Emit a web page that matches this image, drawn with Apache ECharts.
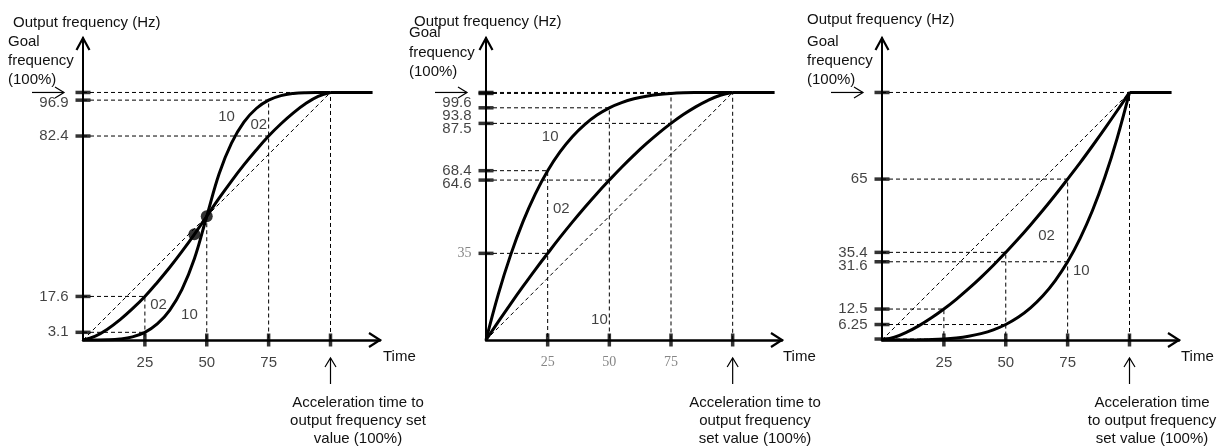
<!DOCTYPE html>
<html>
<head>
<meta charset="utf-8">
<script src="https://cdn.jsdelivr.net/npm/echarts@6/dist/echarts.min.js"></script>
<style>
  html, body { margin: 0; padding: 0; background: #fff; }
  #chart { width: 1226px; height: 447px; }
</style>
</head>
<body>
<div id="chart"></div>
<script>
// Time axis samples, % of the acceleration time
const timePoints = [0, 5, 10, 15, 20, 25, 30, 35, 40, 45, 50, 55, 60, 65, 70, 75, 80, 85, 90, 95, 100];

// S-shaped acceleration (output frequency, % of goal)
const sCurve02 = [0, 1.58, 4.47, 8.22, 12.65, 17.6, 23.24, 29.28, 35.78, 42.69, 50, 57.31, 64.22, 70.72, 76.76, 82.4, 87.35, 91.78, 95.53, 98.42, 100];
const sCurve10 = [0, 0.01, 0.08, 0.41, 1.28, 3.1, 6.48, 12.0, 20.48, 32.8, 50, 67.2, 79.52, 88.0, 93.52, 96.9, 98.72, 99.59, 99.92, 99.99, 100];
const sInflection = [[45, 42.69], [50, 50]];

// Fast-start (decelerating) curves
const decel02 = [0, 7.40, 14.62, 21.63, 28.45, 35, 41.43, 47.60, 53.52, 59.21, 64.6, 69.81, 74.70, 79.29, 83.57, 87.5, 91.06, 94.19, 96.84, 98.88, 100];
const decel10 = [0, 18.55, 34.39, 47.80, 59.04, 68.4, 75.99, 82.15, 87.04, 90.85, 93.8, 95.90, 97.44, 98.50, 99.19, 99.6, 99.84, 99.95, 99.99, 100, 100];

// Slow-start (accelerating) curves
const accel02 = [0, 1.12, 3.16, 5.81, 8.94, 12.5, 16.43, 20.71, 25.30, 30.19, 35.4, 40.79, 46.48, 52.40, 58.57, 65, 71.55, 78.37, 85.38, 92.60, 100];
const accel10 = [0, 0, 0.01, 0.05, 0.16, 0.39, 0.81, 1.50, 2.56, 4.10, 6.25, 9.15, 12.96, 17.85, 24.01, 31.6, 40.96, 52.20, 65.61, 81.45, 100];

// Frequency ticks and their labels
const sFreqTicks = [100, 96.9, 82.4, 17.6, 3.1];
const sFreqLabels = ['', '96.9', '82.4', '17.6', '3.1'];
const decelFreqTicks = [100, 99.6, 93.8, 87.5, 68.4, 64.6, 35];
const decelFreqLabels = ['', '99.6', '93.8', '87.5', '68.4', '64.6', '35'];
const accelFreqTicks = [100, 65, 35.4, 31.6, 12.5, 6.25, 0.39];
const accelFreqLabels = ['', '65', '35.4', '31.6', '12.5', '6.25', ''];

// Time ticks
const timeTicks = [25, 50, 75, 100];
const timeTickLabels = ['25', '50', '75', ''];

// Frequency held after the acceleration time
const holdEnd = 117;

// Reading guides: frequency value -> curve point -> time value
const sGuides = [
  [[0, 100], [100, 100], [100, 0]],
  [[0, 96.9], [75, 96.9], [75, 0]],
  [[0, 82.4], [75, 82.4]],
  [[0, 17.6], [25, 17.6], [25, 0]],
  [[0, 3.1], [25, 3.1]],
  [[50, 50], [50, 0]]
];
const decelGuides = [
  [[0, 100], [100, 100], [100, 0]],
  [[0, 99.6], [75, 99.6], [75, 0]],
  [[0, 93.8], [50, 93.8], [50, 0]],
  [[0, 87.5], [75, 87.5]],
  [[0, 68.4], [25, 68.4], [25, 0]],
  [[0, 64.6], [50, 64.6]],
  [[0, 35], [25, 35]]
];
const accelGuides = [
  [[0, 100], [100, 100], [100, 0]],
  [[0, 65], [75, 65], [75, 0]],
  [[0, 35.4], [50, 35.4], [50, 0]],
  [[0, 31.6], [75, 31.6]],
  [[0, 12.5], [25, 12.5], [25, 0]],
  [[0, 6.25], [50, 6.25]],
  [[0, 0.39], [25, 0.39]]
];
const diagonal = [[0, 0], [100, 100]];

const SANS = '"Liberation Sans", Arial, sans-serif';
const SERIF = '"Liberation Serif", "Times New Roman", serif';
const FONT_SIZE = 15;
const LABEL_GAP = 13;
const X_MAX = 120, Y_MAX = 122;

const panels = [
  {
    curves: [sCurve02, sCurve10], freqTicks: sFreqTicks, freqLabels: sFreqLabels, guides: sGuides,
    dots: sInflection, serifFreq: [], serifTime: false,
    grid: { left: 83, top: 38, width: 297, height: 302 },
    notes: [{ t: '10', at: [58, 90] }, { t: '02', at: [71, 87] }, { t: '02', at: [30.5, 14] }, { t: '10', at: [43, 10] }],
    titleX: 13, titleY: 23, goalX: 8, goalY: [42, 61, 80], timeX: 383,
    footX: 358, foot: ['Acceleration time to', 'output frequency set', 'value (100%)']
  },
  {
    curves: [decel02, decel10], freqTicks: decelFreqTicks, freqLabels: decelFreqLabels, guides: decelGuides,
    dots: [], serifFreq: [35], serifTime: true,
    grid: { left: 486, top: 38, width: 296, height: 302 },
    notes: [{ t: '10', at: [26, 82] }, { t: '02', at: [30.5, 53] }, { t: '10', at: [46, 8] }],
    titleX: 414, titleY: 22, goalX: 409, goalY: [33, 53, 72], timeX: 783,
    footX: 755, foot: ['Acceleration time to', 'output frequency', 'set value (100%)']
  },
  {
    curves: [accel02, accel10], freqTicks: accelFreqTicks, freqLabels: accelFreqLabels, guides: accelGuides,
    dots: [], serifFreq: [], serifTime: false,
    grid: { left: 882, top: 38, width: 297, height: 302 },
    notes: [{ t: '02', at: [66.5, 42] }, { t: '10', at: [80.5, 28] }],
    titleX: 807, titleY: 20, goalX: 807, goalY: [42, 61, 80], timeX: 1181,
    footX: 1152, foot: ['Acceleration time', 'to output frequency', 'set value (100%)']
  }
];

const grids = [], xAxes = [], yAxes = [], series = [];

panels.forEach((p, i) => {
  grids.push(Object.assign({ containLabel: false }, p.grid));
  const axisBase = {
    gridIndex: i, type: 'value', min: 0,
    axisTick: { show: false }, axisLabel: { show: false }, splitLine: { show: false }
  };
  xAxes.push(Object.assign({}, axisBase, { max: X_MAX, axisLine: { show: true, onZero: false, lineStyle: { color: '#000', width: 2.5 } } }));
  yAxes.push(Object.assign({}, axisBase, { max: Y_MAX, axisLine: { show: true, onZero: false, lineStyle: { color: '#000', width: 2 } } }));

  const common = { xAxisIndex: i, yAxisIndex: i, silent: true, animation: false };
  const dashed = { color: '#000', width: 1, type: [4, 3] };

  series.push(Object.assign({ type: 'line', data: diagonal, symbol: 'none', lineStyle: dashed, z: 1 }, common));
  p.guides.forEach(g => {
    series.push(Object.assign({ type: 'line', data: g, symbol: 'none', lineStyle: dashed, z: 1 }, common));
  });

  p.curves.forEach(c => {
    series.push(Object.assign({
      type: 'line', data: timePoints.map((t, k) => [t, c[k]]), symbol: 'none',
      smooth: 0.4, lineStyle: { color: '#000', width: 3 }, z: 3
    }, common));
  });
  series.push(Object.assign({
    type: 'line', data: [[100, 100], [holdEnd, 100]], symbol: 'none', lineStyle: { color: '#000', width: 3 }, z: 3
  }, common));

  // frequency tick marks; labels are pushed down where ticks sit close together
  const unit = p.grid.height / Y_MAX;
  let lastLabelY = -Infinity;
  const tickData = p.freqTicks.map((v, k) => {
    const tickY = p.grid.top + (Y_MAX - v) * unit;
    const labelY = Math.max(tickY, lastLabelY + LABEL_GAP);
    lastLabelY = (p.freqLabels[k] === '' && v >= 100) ? tickY - 3 : labelY;
    const serif = p.serifFreq.indexOf(v) >= 0;
    return {
      value: [0, v],
      label: {
        show: p.freqLabels[k] !== '', formatter: p.freqLabels[k], position: 'left', distance: 7,
        offset: [0, labelY - tickY],
        fontFamily: serif ? SERIF : SANS, fontSize: serif ? 14 : FONT_SIZE, color: serif ? '#666' : '#111'
      }
    };
  });
  series.push(Object.assign({
    type: 'scatter', symbol: 'rect', symbolSize: [15, 3.5], z: 4,
    itemStyle: { color: '#000' }, data: tickData
  }, common));

  // time tick marks with labels
  series.push(Object.assign({
    type: 'scatter', symbol: 'rect', symbolSize: [3.5, 13], z: 4,
    itemStyle: { color: '#000' },
    data: timeTicks.map((t, k) => ({
      value: [t, 0],
      label: {
        show: timeTickLabels[k] !== '', formatter: timeTickLabels[k], position: 'bottom', distance: 9,
        fontFamily: p.serifTime ? SERIF : SANS, fontSize: p.serifTime ? 14 : FONT_SIZE,
        color: p.serifTime ? '#666' : '#111'
      }
    }))
  }, common));

  if (p.dots.length) {
    series.push(Object.assign({
      type: 'scatter', symbol: 'circle', symbolSize: 12, itemStyle: { color: '#000' }, z: 5, data: p.dots
    }, common));
  }

  // curve parameter labels
  series.push(Object.assign({
    type: 'scatter', symbolSize: 0, z: 5,
    data: p.notes.map(n => ({
      value: n.at,
      label: { show: true, formatter: n.t, position: 'inside', fontFamily: SANS, fontSize: FONT_SIZE, color: '#111' }
    }))
  }, common));
});

const chart = echarts.init(document.getElementById('chart'), null, { renderer: 'canvas' });
chart.setOption({
  animation: false,
  backgroundColor: '#fff',
  grid: grids, xAxis: xAxes, yAxis: yAxes, series: series
});

// Arrows and captions placed from the axis scales
const graphics = [];
const text = (str, x, y, align) => ({
  type: 'text', silent: true,
  style: { text: str, x: x, y: y, font: FONT_SIZE + 'px ' + SANS, fill: '#111', align: align || 'left', verticalAlign: 'middle' }
});
const line = (pts, w) => ({
  type: 'polyline', silent: true, shape: { points: pts },
  style: { stroke: '#000', lineWidth: w, fill: null }
});

panels.forEach((p, i) => {
  const px = v => chart.convertToPixel({ gridIndex: i }, v);
  const xe = px([X_MAX, 0]);
  const ye = px([0, Y_MAX]);
  const goal = px([0, 100]);
  const full = px([100, 0]);

  graphics.push(line([[xe[0] - 11, xe[1] - 7], [xe[0], xe[1]], [xe[0] - 11, xe[1] + 7]], 2.2));
  graphics.push(line([[ye[0] - 6.5, ye[1] + 12], [ye[0], ye[1]], [ye[0] + 6.5, ye[1] + 12]], 2.2));

  // goal frequency pointer
  const ax = goal[0] - 51, bx = goal[0] - 19;
  graphics.push(line([[ax, goal[1]], [bx, goal[1]]], 1.2));
  graphics.push(line([[bx - 9, goal[1] - 5.5], [bx, goal[1]], [bx - 9, goal[1] + 5.5]], 1.2));

  // acceleration time pointer
  const ty = full[1] + 18, by = full[1] + 44;
  graphics.push(line([[full[0], by], [full[0], ty]], 1.2));
  graphics.push(line([[full[0] - 5.5, ty + 9], [full[0], ty], [full[0] + 5.5, ty + 9]], 1.2));

  graphics.push(text('Output frequency (Hz)', p.titleX, p.titleY));
  ['Goal', 'frequency', '(100%)'].forEach((s, k) => graphics.push(text(s, p.goalX, p.goalY[k])));
  graphics.push(text('Time', p.timeX, full[1] + 17));
  p.foot.forEach((s, k) => graphics.push(text(s, p.footX, 403 + k * 18, 'center')));
});

chart.setOption({ graphic: graphics });
</script>
</body>
</html>
